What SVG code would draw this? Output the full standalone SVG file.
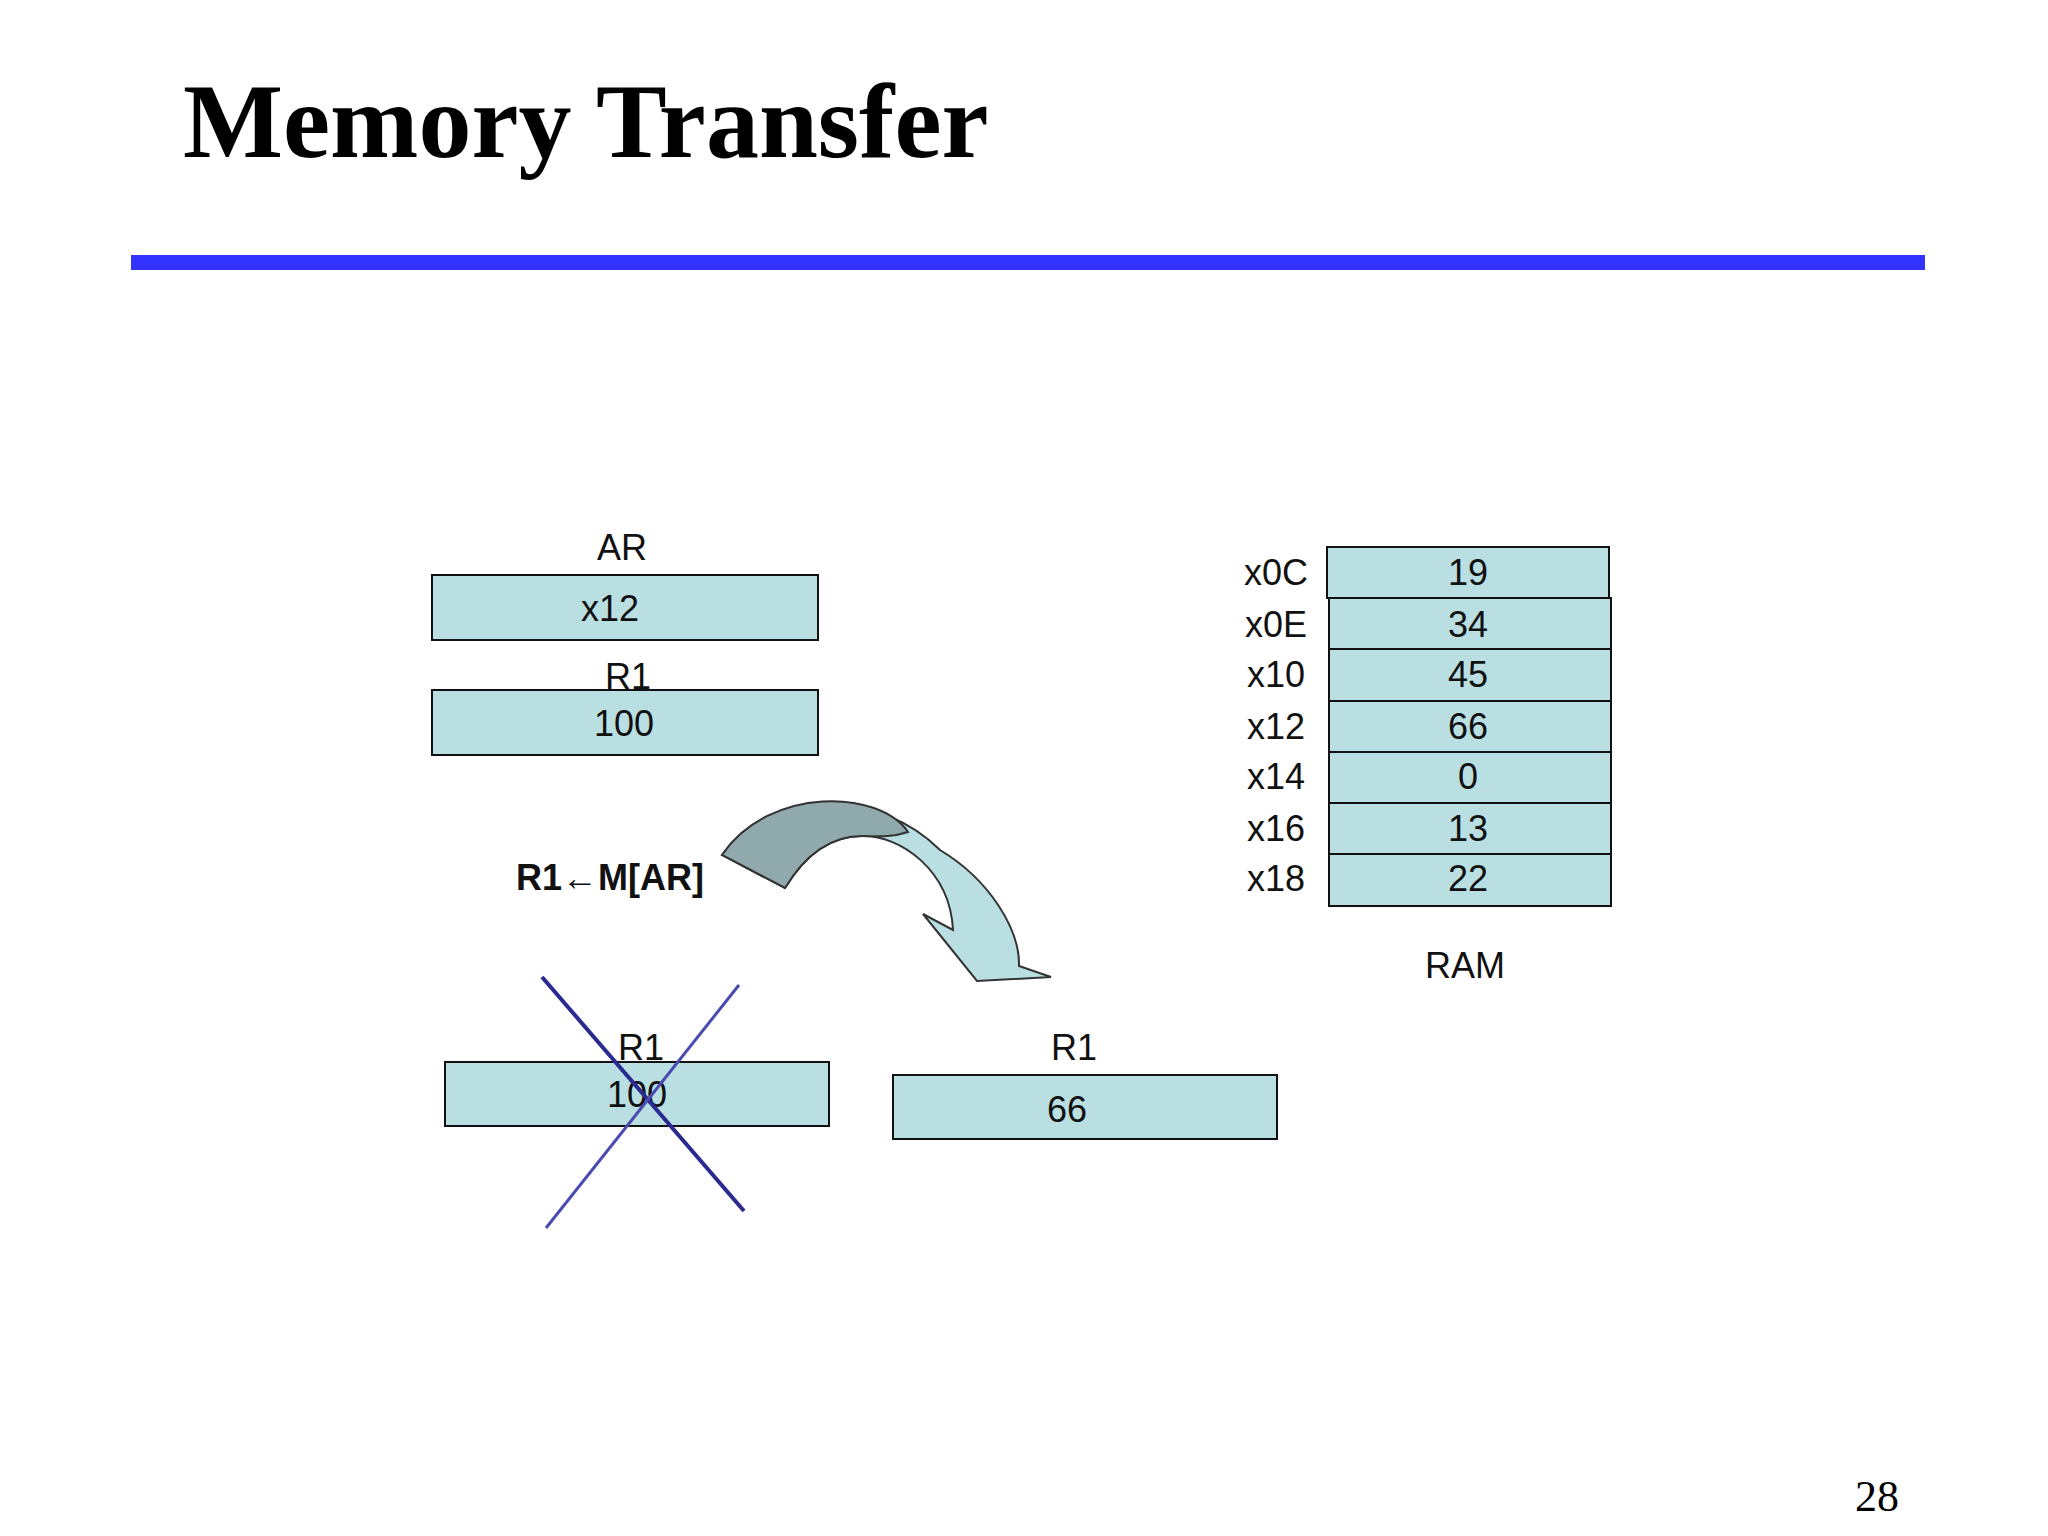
<svg xmlns="http://www.w3.org/2000/svg" width="2048" height="1536" viewBox="0 0 2048 1536">
<style>
.b{fill:#b9dfe3;stroke:#111;stroke-width:2}
.t{font-family:"Liberation Sans",Arial,sans-serif;font-size:36px;text-anchor:middle;fill:#111}
</style>
<rect width="2048" height="1536" fill="#fff"/>
<text x="183" y="157" font-family="Liberation Serif,serif" font-weight="bold" font-size="106" fill="#000">Memory Transfer</text>
<rect x="131" y="255" width="1794" height="15" fill="#3333ff"/>
<g id="ar"><text class="t" x="622" y="560">AR</text><rect class="b" x="432" y="575" width="386" height="65"/><text class="t" x="610" y="621">x12</text></g>
<g id="r1a"><text class="t" x="628" y="689">R1</text><rect class="b" x="432" y="690" width="386" height="65"/><text class="t" x="624" y="736">100</text></g>
<text class="t" x="610" y="890" font-weight="bold">R1←M[AR]</text>
<g id="r1old"><rect class="b" x="445" y="1062" width="384" height="64"/><text class="t" x="641" y="1060">R1</text><text class="t" x="637" y="1107">100</text></g>
<g id="r1new"><text class="t" x="1074" y="1060">R1</text><rect class="b" x="893" y="1075" width="384" height="64"/><text class="t" x="1067" y="1122">66</text></g>
<g id="ram">
<rect class="b" x="1327" y="547" width="282" height="51"/><rect class="b" x="1329" y="598" width="282" height="51"/><rect class="b" x="1329" y="649" width="282" height="52"/><rect class="b" x="1329" y="701" width="282" height="51"/><rect class="b" x="1329" y="752" width="282" height="51"/><rect class="b" x="1329" y="803" width="282" height="51"/><rect class="b" x="1329" y="854" width="282" height="52"/>
<g class="t"><text x="1468" y="585">19</text><text x="1468" y="637">34</text><text x="1468" y="687">45</text><text x="1468" y="739">66</text><text x="1468" y="789">0</text><text x="1468" y="841">13</text><text x="1468" y="891">22</text>
<text x="1276" y="585">x0C</text><text x="1276" y="637">x0E</text><text x="1276" y="687">x10</text><text x="1276" y="739">x12</text><text x="1276" y="789">x14</text><text x="1276" y="841">x16</text><text x="1276" y="891">x18</text>
<text x="1465" y="978">RAM</text></g></g>
<g id="connectors">
<path d="M722,855 C770,785 880,790 940,850 C990,880 1020,930 1019,966 L1051,977 L977,981 L923,914 L953,930 C950,870 900,835 862,836 C830,836 805,855 785,888 Z" fill="#b9dfe3" stroke="#333" stroke-width="2"/>
<path d="M722,855 C770,785 880,790 908,832 C890,838 875,836 862,836 C830,836 805,855 785,888 Z" fill="#90a9ac" stroke="#333" stroke-width="2"/>
<line x1="542" y1="977" x2="744" y2="1211" stroke="#2a2a90" stroke-width="4"/>
<line x1="739" y1="985" x2="546" y2="1228" stroke="#4a4ab0" stroke-width="3"/>
</g>
<text x="1877" y="1511" font-family="Liberation Serif,serif" font-size="44" text-anchor="middle">28</text>
</svg>
